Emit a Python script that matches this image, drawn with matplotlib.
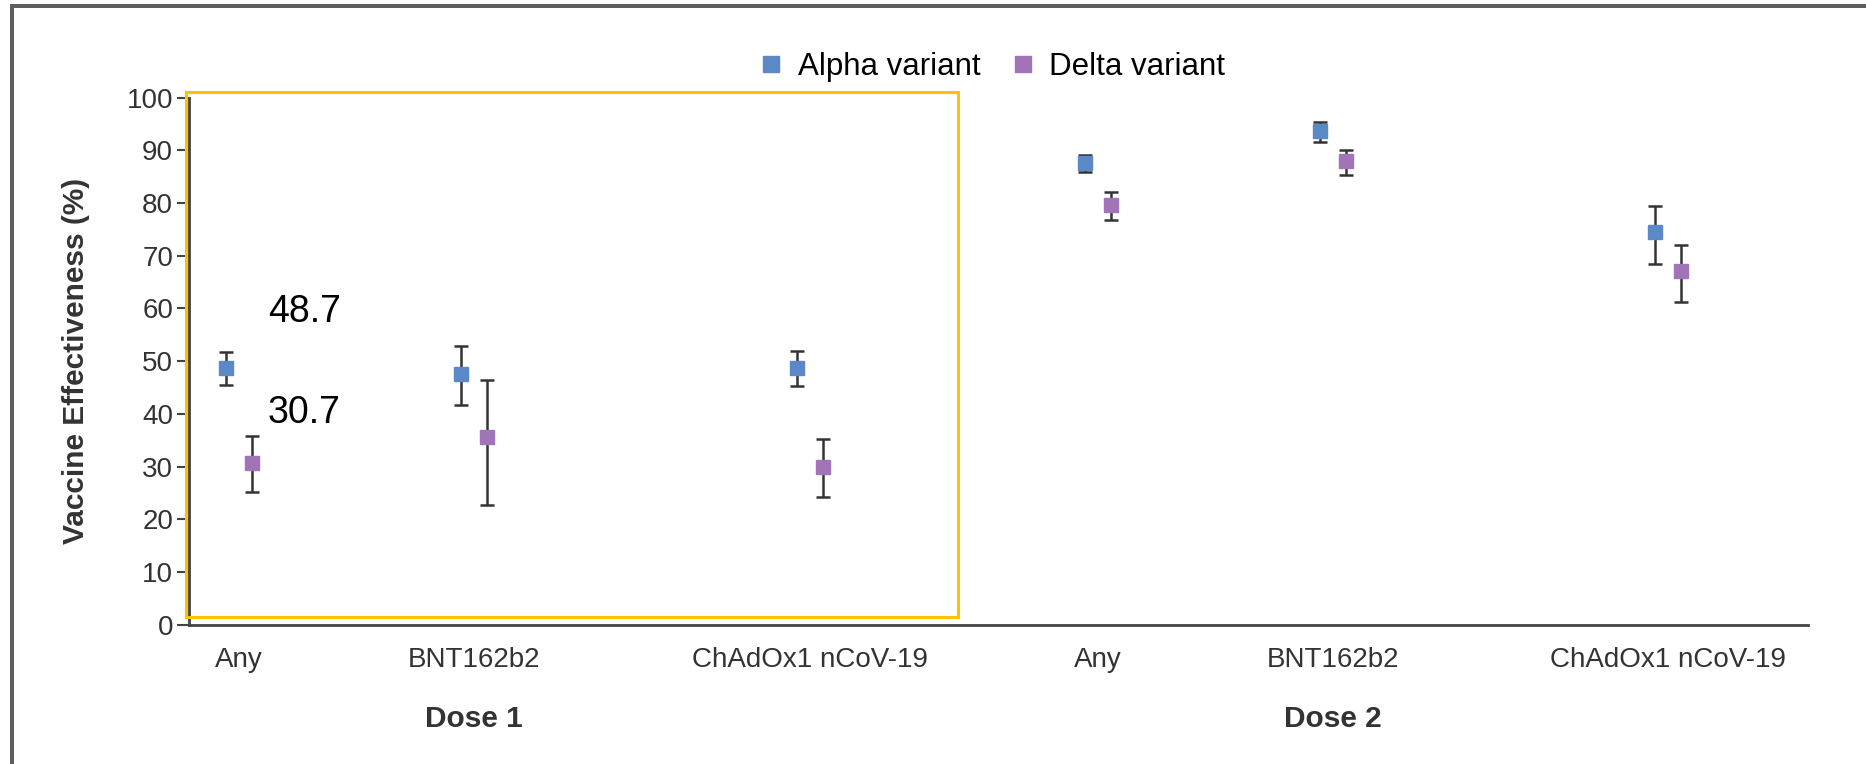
import numpy as np
import matplotlib
matplotlib.use("Agg")
import matplotlib.pyplot as plt
from matplotlib.patches import Rectangle
from matplotlib.lines import Line2D

# =========================
# DATA
# =========================
categories = ["Any", "BNT162b2", "ChAdOx1 nCoV-19", "Any", "BNT162b2", "ChAdOx1 nCoV-19"]
groups = ["Dose 1", "Dose 2"]

alpha_ve = [48.7, 47.5, 48.7, 87.5, 93.7, 74.5]
alpha_lo = [45.5, 41.6, 45.2, 85.8, 91.6, 68.4]
alpha_hi = [51.7, 52.8, 51.9, 89.1, 95.3, 79.4]

delta_ve = [30.7, 35.6, 30.0, 79.6, 88.0, 67.0]
delta_lo = [25.2, 22.7, 24.3, 76.7, 85.3, 61.3]
delta_hi = [35.7, 46.4, 35.3, 82.1, 90.1, 72.1]

# highlighted values written on the chart
note_values = [48.7, 30.7]

# =========================
# LAYOUT / STYLE
# =========================
W, H = 1866, 764
x_pos = np.array([0.50, 2.85, 6.21, 9.09, 11.44, 14.79])   # category centres
offset = 0.127
BLUE = "#5B88C6"
PURPLE = "#A173B7"
DARK = "#333333"

plt.rcParams["font.family"] = ["Liberation Sans", "DejaVu Sans"]

fig = plt.figure(figsize=(W / 100, H / 100), dpi=100)
ax = fig.add_axes([189 / W, 1 - 624.7 / H, 1619 / W, 527.2 / H])

err_kw = dict(fmt="s", markersize=9.5, capsize=5, elinewidth=1.8,
              capthick=1.8, ecolor=DARK)

a = np.array(alpha_ve)
d = np.array(delta_ve)
ax.errorbar(x_pos - offset, a, yerr=[a - np.array(alpha_lo), np.array(alpha_hi) - a],
            color=BLUE, **err_kw)
ax.errorbar(x_pos + offset, d, yerr=[d - np.array(delta_lo), np.array(delta_hi) - d],
            color=PURPLE, **err_kw)

ax.set_xlim(0, 16.19)
ax.set_ylim(0, 100)
ax.set_yticks(np.arange(0, 101, 10))
ax.set_xticks(x_pos)
ax.set_xticklabels(categories)

for s in ["top", "right"]:
    ax.spines[s].set_visible(False)
for s in ["left", "bottom"]:
    ax.spines[s].set_color("#444444")
    ax.spines[s].set_linewidth(2)

ax.tick_params(axis="y", length=8.5, width=1.5, color="#444444",
               labelsize=20, labelcolor=DARK, pad=3)
ax.tick_params(axis="x", length=0, labelsize=20, labelcolor=DARK, pad=16)

ax.set_ylabel("Vaccine Effectiveness (%)", fontsize=21.5, fontweight="bold", color=DARK)
ax.yaxis.set_label_coords(-0.061, 0.5)

# group labels under BNT162b2 columns
for gx, g in zip([x_pos[1], x_pos[4]], groups):
    ax.text(gx, -0.179, g, transform=ax.get_xaxis_transform(), ha="center", va="center",
            fontsize=21.5, fontweight="bold", color=DARK)

# value notes beside the first pair
for v, dy in zip(note_values, [10.6, 9.5]):
    ax.text(x_pos[0] + 0.29, v + dy, f"{v}", fontsize=27, color="black", va="center", ha="left")

# legend
handles = [Line2D([], [], marker="s", linestyle="none", color=BLUE, markersize=12),
           Line2D([], [], marker="s", linestyle="none", color=PURPLE, markersize=12)]
fig.legend(handles, ["Alpha variant", "Delta variant"], loc="center",
           bbox_to_anchor=(0.532, 0.912), ncol=2, frameon=False, fontsize=22.5,
           handlelength=0.7, handletextpad=0.5, columnspacing=1.0)

# yellow highlight box round dose 1
fig.add_artist(Rectangle((186 / W, 1 - 616.5 / H), (958 - 186) / W, (616.5 - 91.6) / H,
                         transform=fig.transFigure, fill=False, edgecolor="#FFC000",
                         linewidth=2.2))

# frame of the screenshot
fig.add_artist(Rectangle((10 / W, 1 - 8 / H), 1 - 10 / W, 4 / H, transform=fig.transFigure,
                         facecolor="#5E5E5E", edgecolor="none"))
fig.add_artist(Rectangle((10 / W, 0), 4 / W, 1 - 4 / H, transform=fig.transFigure,
                         facecolor="#5E5E5E", edgecolor="none"))

fig.savefig("out.png", dpi=100)
